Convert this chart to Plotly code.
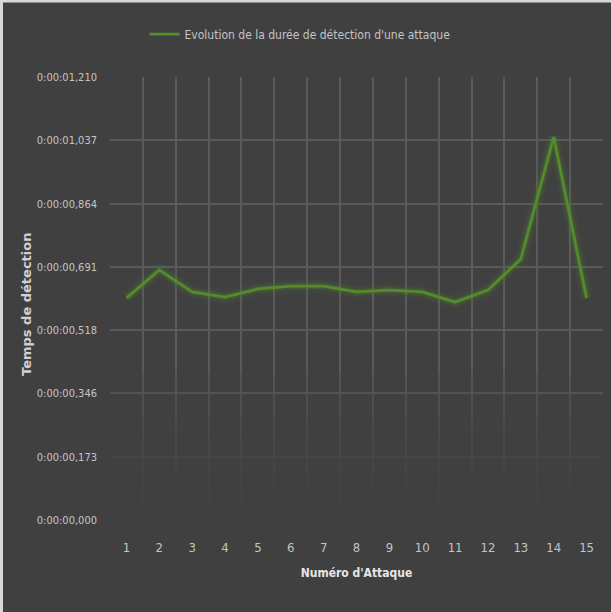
import plotly.graph_objects as go

# Detection time (seconds) for each attack
attaques = list(range(1, 16))
temps_detection = [0.606, 0.683, 0.623, 0.609, 0.631, 0.639, 0.639, 0.623,
                   0.628, 0.623, 0.595, 0.628, 0.713, 1.046, 0.606]

# Y tick positions and their time-formatted labels
y_ticks = [0.000, 0.173, 0.346, 0.518, 0.691, 0.864, 1.037, 1.210]
y_labels = ["0:00:00,000", "0:00:00,173", "0:00:00,346", "0:00:00,518",
            "0:00:00,691", "0:00:00,864", "0:00:01,037", "0:00:01,210"]

BG = "#404040"
GRID = "#5a5a5a"
TXT = "#c4c4c4"
GREEN = "rgb(84,140,44)"
NARROW = "DejaVu Sans Condensed, Liberation Sans Narrow, sans-serif"

fig = go.Figure()

# soft glow under the series line
for w, a in [(14, 0.06), (9, 0.10), (6, 0.18)]:
    fig.add_trace(go.Scatter(
        x=attaques, y=temps_detection, mode="lines",
        line=dict(color=f"rgba(84,140,44,{a})", width=w),
        showlegend=False, hoverinfo="skip"))

fig.add_trace(go.Scatter(
    x=attaques, y=temps_detection, mode="lines",
    name="Evolution de la durée de détection d'une attaque",
    line=dict(color=GREEN, width=2.8)))

# grid fades out toward the bottom of the plot
fade_tops = [0.40, 0.34, 0.28, 0.23, 0.18, 0.13, 0.08, 0.04]
for t in fade_tops:
    fig.add_shape(type="rect", xref="x", yref="y", x0=0.5, x1=15.55, y0=-0.01, y1=t,
                  fillcolor=BG, opacity=0.25, line_width=0, layer="above")

fig.update_layout(
    width=611, height=612,
    paper_bgcolor=BG, plot_bgcolor=BG,
    margin=dict(l=110, r=8, t=77, b=92),
    font=dict(family=NARROW, color=TXT, size=12),
    legend=dict(orientation="h", x=0.07, xanchor="left", y=1.097, yanchor="middle",
                font=dict(family=NARROW, size=12, color=TXT),
                bgcolor="rgba(0,0,0,0)"),
    showlegend=True,
)

fig.update_xaxes(
    range=[0.5, 15.5], tickmode="array", tickvals=attaques,
    ticktext=[str(a) for a in attaques], showgrid=False, zeroline=False,
    showline=False, ticks="", tickfont=dict(family=NARROW, size=13, color=TXT),
    ticklabelstandoff=18,
    minor=dict(tickmode="array", tickvals=[a + 0.5 for a in range(0, 16)],
               showgrid=True, gridcolor=GRID, gridwidth=1.5, ticks=""),
    title=dict(text="Numéro d'Attaque", standoff=14,
               font=dict(family=NARROW, size=12, color="#e6e6e6", weight="bold")),
)

fig.update_yaxes(
    range=[0, 1.210], tickmode="array", tickvals=y_ticks, ticktext=y_labels,
    showgrid=True, gridcolor=GRID, gridwidth=1.5, zeroline=False, showline=False,
    ticks="", tickfont=dict(family=NARROW, size=11, color=TXT),
    ticklabelstandoff=12,
)

# rotated y-axis title placed in the left margin
fig.add_annotation(
    text="Temps de détection", textangle=-90, showarrow=False,
    xref="paper", yref="paper", x=(26 - 110) / 493, y=(520 - 305) / 443,
    xanchor="center", yanchor="middle",
    font=dict(family="DejaVu Sans, Verdana, sans-serif", size=13,
              color="#d0d0d0", weight="bold"))

# light frame along the top and left edges
fig.add_shape(type="line", xref="paper", yref="paper", x0=-110/493, x1=-110/493,
              y0=-92/443, y1=(443+77)/443, line=dict(color="#d8d8d8", width=6))
fig.add_shape(type="line", xref="paper", yref="paper", x0=-110/493, x1=(493+8)/493,
              y0=(443+77)/443, y1=(443+77)/443, line=dict(color="#d8d8d8", width=5))

fig.write_html("out.html")
